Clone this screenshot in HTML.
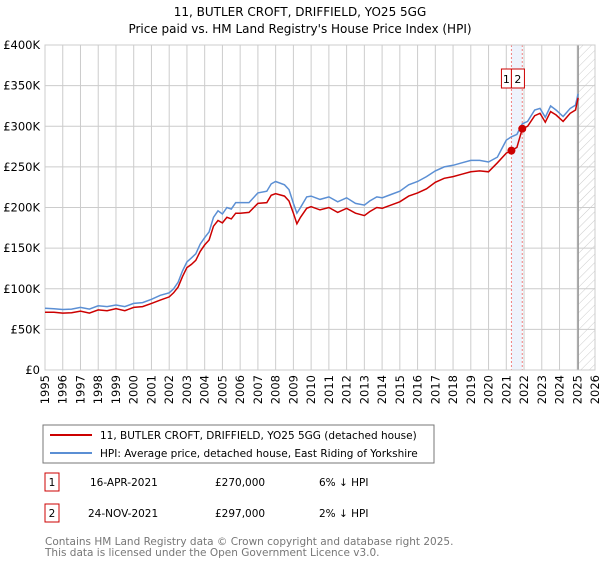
<!DOCTYPE html>
<html><head><meta charset="utf-8">
<style>
body{margin:0;background:#fff;font-family:"Liberation Sans","DejaVu Sans",sans-serif;}
svg text{font-family:"DejaVu Sans","Liberation Sans",sans-serif;}
</style></head>
<body>
<svg id="c" width="600" height="560" viewBox="0 0 600 560" xmlns="http://www.w3.org/2000/svg">
<defs>
<pattern id="hatch" width="6" height="6" patternUnits="userSpaceOnUse" patternTransform="rotate(45)">
<line x1="0" y1="0" x2="0" y2="6" stroke="#ccc" stroke-width="1"/>
</pattern>
</defs>
<text x="300" y="16" text-anchor="middle" font-size="12" fill="#000">11, BUTLER CROFT, DRIFFIELD, YO25 5GG</text>
<text x="300" y="33" text-anchor="middle" font-size="12" fill="#000">Price paid vs. HM Land Registry's House Price Index (HPI)</text>
<g id="grid"></g>
<g id="marks"></g>
<g id="axes"></g>
<g>
<rect x="43" y="425" width="391" height="38" fill="#fff" stroke="#777"/>
<line x1="50" y1="435" x2="92" y2="435" stroke="#cc0000" stroke-width="2"/>
<text x="100" y="439" font-size="10.5">11, BUTLER CROFT, DRIFFIELD, YO25 5GG (detached house)</text>
<line x1="50" y1="453" x2="92" y2="453" stroke="#5b8fd4" stroke-width="2"/>
<text x="100" y="457" font-size="10.5">HPI: Average price, detached house, East Riding of Yorkshire</text>
</g>
<g font-size="10.5">
<rect x="45" y="473" width="14" height="18" fill="#fff" stroke="#cc0000"/>
<text x="52" y="486" text-anchor="middle">1</text>
<text x="90" y="486">16-APR-2021</text>
<text x="215" y="486">£270,000</text>
<text x="319" y="486">6% ↓ HPI</text>
<rect x="45" y="504" width="14" height="18" fill="#fff" stroke="#cc0000"/>
<text x="52" y="517" text-anchor="middle">2</text>
<text x="88" y="517">24-NOV-2021</text>
<text x="215" y="517">£297,000</text>
<text x="319" y="517">2% ↓ HPI</text>
</g>
<text x="45" y="545" font-size="10.5" fill="#777">Contains HM Land Registry data © Crown copyright and database right 2025.</text>
<text x="45" y="556" font-size="10.5" fill="#777">This data is licensed under the Open Government Licence v3.0.</text>
</svg>
<script>
const years = [1995,1995.5,1996,1996.5,1997,1997.5,1998,1998.5,1999,1999.5,2000,2000.5,2001,2001.5,2002,2002.25,2002.5,2002.75,2003,2003.25,2003.5,2003.75,2004,2004.25,2004.5,2004.75,2005,2005.25,2005.5,2005.75,2006,2006.5,2007,2007.5,2007.75,2008,2008.5,2008.75,2009,2009.2,2009.4,2009.75,2010,2010.5,2011,2011.5,2012,2012.5,2013,2013.3,2013.7,2014,2014.5,2015,2015.5,2016,2016.5,2017,2017.5,2018,2018.5,2019,2019.5,2020,2020.5,2021,2021.29,2021.6,2021.9,2022.2,2022.6,2022.9,2023.2,2023.5,2023.8,2024.2,2024.6,2024.9,2025.05];
const hpiValues = [76,75.5,74.5,75,77,75,79,78,80,78,82,83,87,92,95,100,108,122,133,138,143,155,163,170,188,196,192,200,198,206,206,206,218,220,229,232,228,222,205,193,200,213,214,210,213,207,212,205,203,208,213,212,216,220,228,232,238,245,250,252,255,258,258,256,262,283,287,290,303,306,320,322,311,325,320,312,322,326,340];
const priceValues = [71,71,70,70.5,72.5,70,74,73,75.5,73,77,78,82,86,90,95,102,115,126,130,135,146,154,160,177,184,181,188,186,193,193,194,205,206,215,217,214,208,193,180,188,199,201,197,200,194,199,193,190,195,200,199,203,207,214,218,223,231,236,238,241,244,245,244,255,267,270,274,297,300,313,316,305,318,314,306,316,320,335];
const yTicks = [0,50,100,150,200,250,300,350,400];
const yTickLabels = ["£0","£50K","£100K","£150K","£200K","£250K","£300K","£350K","£400K"];
const xTicks = [1995,1996,1997,1998,1999,2000,2001,2002,2003,2004,2005,2006,2007,2008,2009,2010,2011,2012,2013,2014,2015,2016,2017,2018,2019,2020,2021,2022,2023,2024,2025,2026];
const saleYears = [2021.29,2021.9];
const salePrices = [270,297];
const saleLabels = ["1","2"];
const dataEnd = 2025.05;

const L=45,R=595,T=45,B=370;
const x=v=>L+(v-1995)/(2026-1995)*(R-L);
const y=v=>B-v/400*(B-T);
const NS='http://www.w3.org/2000/svg';
function mk(parent,tag,attrs){const e=document.createElementNS(NS,tag);for(const k in attrs)e.setAttribute(k,attrs[k]);document.getElementById(parent).appendChild(e);return e;}

yTicks.forEach((t,i)=>{
  const g=mk('grid','line',{x1:L,x2:R,y1:y(t),y2:y(t),stroke:'#ccc','stroke-width':1});
  
  
  const tx=mk('axes','text',{x:L-5,y:y(t)+4,'text-anchor':'end','font-size':11.5});
  tx.textContent=yTickLabels[i];
  
  
});
xTicks.forEach(t=>{
  const g=mk('grid','line',{x1:x(t),x2:x(t),y1:T,y2:B,stroke:'#ccc','stroke-width':1});
  
  
  const tx=mk('axes','text',{x:0,y:0,'text-anchor':'end','font-size':11.5,transform:`translate(${x(t)+4},${B+5}) rotate(-90)`});
  tx.textContent=t;
  
  
});
const h=mk('grid','rect',{x:x(dataEnd),y:T,width:R-x(dataEnd),height:B-T,fill:'url(#hatch)'});


const el=mk('grid','line',{x1:x(dataEnd),x2:x(dataEnd),y1:T,y2:B,stroke:'#999','stroke-width':1.5});


const band=mk('grid','rect',{x:x(saleYears[0]),y:T,width:x(saleYears[1])-x(saleYears[0]),height:B-T,fill:'#eef3fc'});


saleYears.forEach((s,i)=>{
  const ln=mk('grid','line',{x1:x(s),x2:x(s),y1:T,y2:B,stroke:'#f08080','stroke-dasharray':'2,2','stroke-width':1});
  
  
});
const frame=mk('grid','rect',{x:L,y:T,width:R-L,height:B-T,fill:'none',stroke:'#ccc'});



const path=vals=>vals.map((v,i)=>(i?'L':'M')+x(years[i]).toFixed(1)+','+y(v).toFixed(1)).join(' ');
const hp=mk('marks','path',{d:path(hpiValues),fill:'none',stroke:'#5b8fd4','stroke-width':1.5});


const pp=mk('marks','path',{d:path(priceValues),fill:'none',stroke:'#cc0000','stroke-width':1.5});


saleYears.forEach((s,i)=>{
  const c=mk('marks','circle',{cx:x(s),cy:y(salePrices[i]),r:4,fill:'#cc0000'});
  
  
});
// badges: adjacent boxes, 1 ending at first sale line, 2 starting there
const x1=x(saleYears[0]);
const badgeX=[x1-10,x1];
const badgeW=[10,13];
saleLabels.forEach((lab,i)=>{
  const r=mk('marks','rect',{x:badgeX[i],y:69,width:badgeW[i],height:19,fill:'#fff',stroke:'#cc0000'});
  
  
  const t=mk('marks','text',{x:badgeX[i]+badgeW[i]/2,y:83,'text-anchor':'middle','font-size':11});
  t.textContent=lab;
  
  
});
</script>
</body></html>
